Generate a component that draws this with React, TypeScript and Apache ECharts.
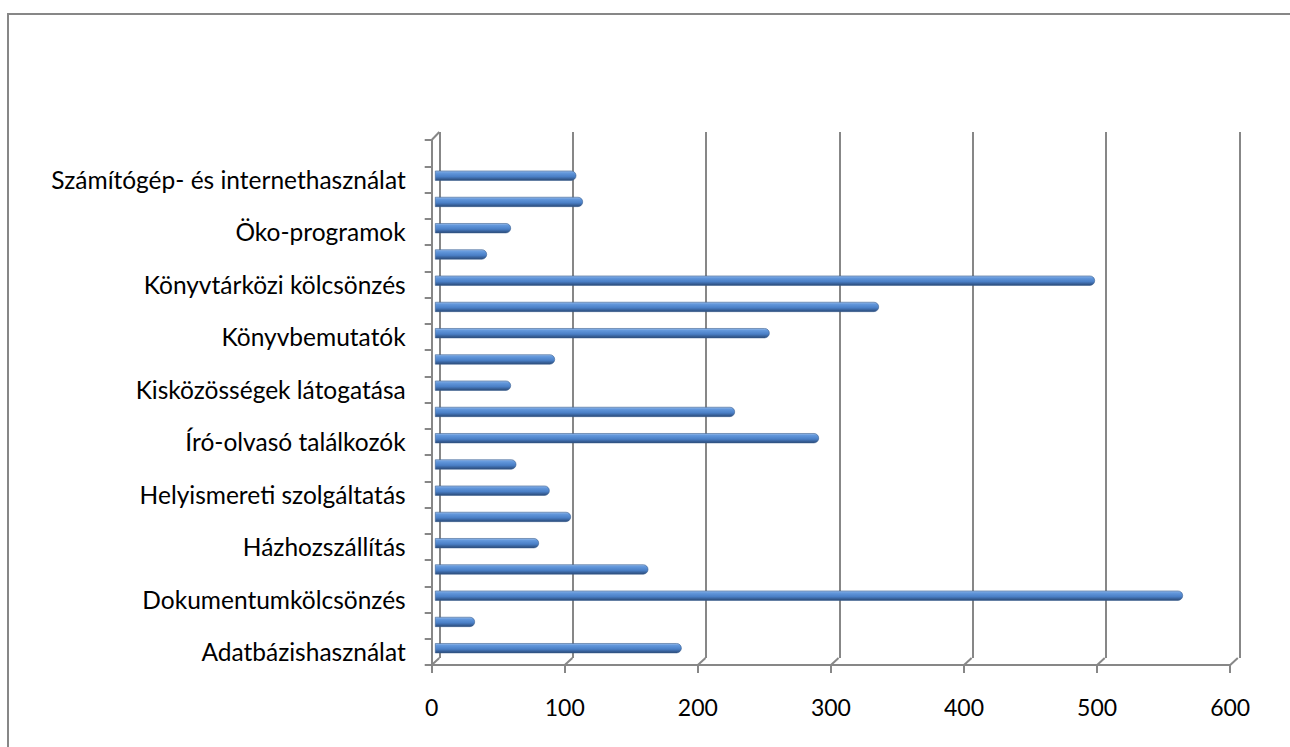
import React, { useEffect, useRef } from "react";
import * as echarts from "echarts";

// Categories from bottom to top (only every other one is labelled in the reference)
const categories: string[] = [
  "Adatbázishasználat",
  "Bibliográfiai szolgáltatás",
  "Dokumentumkölcsönzés",
  "Gyermekfoglalkozások",
  "Házhozszállítás",
  "Helyben olvasás",
  "Helyismereti szolgáltatás",
  "Hírlevél",
  "Író-olvasó találkozók",
  "Kiállítások",
  "Kisközösségek látogatása",
  "Klubfoglalkozások",
  "Könyvbemutatók",
  "Könyvtárhasználati órák",
  "Könyvtárközi kölcsönzés",
  "Olvasótábor",
  "Öko-programok",
  "Rendezvények",
  "Számítógép- és internethasználat",
  "Tanfolyamok",
];

const values: (number | string)[] = [
  185, 30, 561, 160, 78, 102, 86, 61, 288, 225, 57, 90, 251, 333, 495, 39, 57, 111, 106, "-",
];

const xTicks: number[] = [0, 100, 200, 300, 400, 500, 600];

const AXIS_GRAY = "#878787";
const FONT = "Lato";

export default function App() {
  const ref = useRef<HTMLDivElement>(null);

  useEffect(() => {
    if (!ref.current) return;
    const chart = echarts.init(ref.current, null, { renderer: "svg" });

    const barColor = new echarts.graphic.LinearGradient(0, 0, 0, 1, [
      { offset: 0, color: "#9bbdea" },
      { offset: 0.2, color: "#6398dc" },
      { offset: 0.6, color: "#4a7fc6" },
      { offset: 1, color: "#2a4a78" },
    ]);

    const option: any = {
      animation: false,
      backgroundColor: "#ffffff",
      graphic: [
        {
          type: "rect",
          shape: { x: 8, y: 14, width: 1400, height: 900 },
          style: { fill: "none", stroke: AXIS_GRAY, lineWidth: 2 },
          silent: true,
        },
      ],
      grid: [
        // back wall (gridlines)
        { left: 439.5, top: 132, width: 800, height: 526 },
        // bars, mid-depth
        { left: 435, top: 136.3, width: 800, height: 525 },
        // front plane (axes, labels)
        { left: 431.7, top: 140, width: 798.5, height: 525 },
      ],
      xAxis: [
        {
          gridIndex: 0,
          type: "value",
          min: 0,
          max: 600,
          interval: 100,
          axisLine: { show: false },
          axisTick: { show: false },
          axisLabel: { show: false },
          splitLine: { show: true, lineStyle: { color: AXIS_GRAY, width: 2 } },
        },
        {
          gridIndex: 1,
          type: "value",
          min: 0,
          max: 600,
          interval: 100,
          show: false,
          splitLine: { show: false },
        },
        {
          gridIndex: 2,
          type: "value",
          min: 0,
          max: 600,
          interval: 100,
          axisLine: { show: true, lineStyle: { color: AXIS_GRAY, width: 2 } },
          axisTick: { show: true, length: 8, lineStyle: { color: AXIS_GRAY, width: 2 } },
          axisLabel: {
            show: true,
            margin: 30,
            color: "#000",
            fontFamily: FONT,
            fontSize: 23,
          },
          splitLine: { show: false },
        },
      ],
      yAxis: [
        { gridIndex: 0, type: "category", data: categories, show: false },
        { gridIndex: 1, type: "category", data: categories, show: false },
        {
          gridIndex: 2,
          type: "category",
          data: categories,
          axisLine: { show: true, lineStyle: { color: AXIS_GRAY, width: 2 } },
          axisTick: {
            show: true,
            interval: 0,
            length: 7,
            lineStyle: { color: AXIS_GRAY, width: 2 },
          },
          axisLabel: {
            show: true,
            interval: (index: number) => index % 2 === 0,
            margin: 26,
            color: "#000",
            fontFamily: FONT,
            fontSize: 24.5,
          },
          splitLine: { show: false },
        },
      ],
      series: [
        {
          type: "bar",
          xAxisIndex: 1,
          yAxisIndex: 1,
          data: values,
          barWidth: 10,
          itemStyle: {
            color: barColor,
            borderColor: "#3a5f91",
            borderWidth: 0.6,
            borderRadius: [0, 5, 5, 0],
          },
          silent: true,
        },
        {
          // 3D floor connectors: front tick -> back wall gridline
          type: "custom",
          xAxisIndex: 2,
          yAxisIndex: 2,
          data: xTicks.map((v) => [v]),
          silent: true,
          renderItem: (params: any, api: any) => {
            const cs = params.coordSys;
            const x = api.coord([api.value(0), 0])[0];
            const bottom = cs.y + cs.height;
            const children: any[] = [
              {
                type: "line",
                shape: { x1: x, y1: bottom, x2: x + 7.6, y2: bottom - 7 },
                style: { stroke: AXIS_GRAY, lineWidth: 2 },
              },
            ];
            if (params.dataIndex === 0) {
              children.push({
                type: "line",
                shape: { x1: x, y1: cs.y, x2: x + 7.6, y2: cs.y - 8 },
                style: { stroke: AXIS_GRAY, lineWidth: 2 },
              });
            }
            return { type: "group", children };
          },
        },
      ],
    };

    chart.setOption(option);
    return () => chart.dispose();
  }, []);

  return (
    <div
      ref={ref}
      style={{ position: "fixed", left: 0, top: 0, width: 1290, height: 747 }}
    />
  );
}
